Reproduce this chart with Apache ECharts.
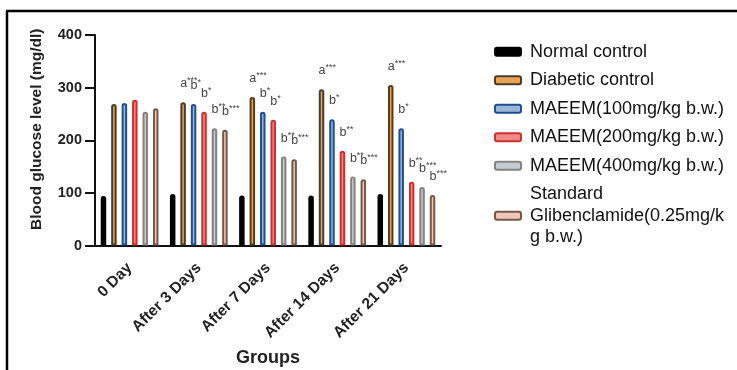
<!DOCTYPE html>
<html>
<head>
<meta charset="utf-8">
<script src="https://cdn.jsdelivr.net/npm/echarts@6/dist/echarts.min.js"></script>
<style>
  html, body { margin: 0; padding: 0; background: #fff; }
  #chart { width: 737px; height: 370px; }
</style>
</head>
<body>
<div id="chart"></div>
<script>
// Blood glucose (mg/dl) per treatment group over time
const categories = ['0 Day', 'After 3 Days', 'After 7 Days', 'After 14 Days', 'After 21 Days'];
const seriesNames = [
  'Normal control',
  'Diabetic control',
  'MAEEM(100mg/kg b.w.)',
  'MAEEM(200mg/kg b.w.)',
  'MAEEM(400mg/kg b.w.)',
  'Standard Glibenclamide(0.25mg/kg b.w.)'
];
const normalControl   = [94, 98, 95, 95, 98];
const diabeticControl = [269, 272, 282, 297, 305];
const maeem100        = [271, 269, 254, 240, 223];
const maeem200        = [277, 254, 239, 180, 121];
const maeem400        = [254, 223, 169, 131, 111];
const glibenclamide   = [261, 220, 164, 126, 96];

// Significance marks: letter + asterisks ('' = none)
const sigDiabetic = ['', 'a***', 'a***', 'a***', 'a***'];
const sig100      = ['', 'b*', 'b*', 'b*', 'b*'];
const sig200      = ['', 'b*', 'b*', 'b**', 'b**'];
const sig400      = ['', 'b**', 'b**', 'b**', 'b***'];
const sigGlib     = ['', 'b***', 'b***', 'b***', 'b***'];

const yTicks = [0, 100, 200, 300, 400];

const FONT = 'Liberation Sans, Arial, sans-serif';

const styles = [
  { border: '#000000', fill: '#000000' },
  { border: '#4e3c28', fill: '#e9a352' },
  { border: '#1f4f8f', fill: '#9db6d8' },
  { border: '#cc2f2f', fill: '#ee8a88' },
  { border: '#86837e', fill: '#c4cad2' },
  { border: '#74584a', fill: '#f1c6b6' }
];

const valueSets = [normalControl, diabeticControl, maeem100, maeem200, maeem400, glibenclamide];
const sigSets = [null, sigDiabetic, sig100, sig200, sig400, sigGlib];

function sigLabel(sigs) {
  return function (p) {
    const s = sigs[p.dataIndex];
    if (!s) return '';
    return '{l|' + s.charAt(0) + '}{s|' + s.slice(1) + '}';
  };
}

const series = valueSets.map(function (vals, i) {
  const s = {
    name: seriesNames[i],
    type: 'bar',
    barWidth: 5.5,
    barGap: '90%',
    data: vals,
    itemStyle: {
      color: styles[i].fill,
      borderColor: styles[i].border,
      borderWidth: 2,
      borderRadius: [2.5, 2.5, 0, 0]
    }
  };
  if (sigSets[i]) {
    s.label = {
      show: true,
      position: 'top',
      align: 'left',
      distance: 12,
      offset: [-3, 0],
      formatter: sigLabel(sigSets[i]),
      rich: {
        l: { fontSize: 12.5, color: '#444', fontFamily: FONT, lineHeight: 14, verticalAlign: 'bottom' },
        s: { fontSize: 9, color: '#444', fontFamily: FONT, lineHeight: 14, verticalAlign: 'top', padding: [0, 0, 5, 0] }
      }
    };
  }
  return s;
});

const legendText = {
  'Standard Glibenclamide(0.25mg/kg b.w.)': 'Standard\nGlibenclamide(0.25mg/k\ng b.w.)'
};

const chart = echarts.init(document.getElementById('chart'));
chart.setOption({
  backgroundColor: '#ffffff',
  animation: false,
  grid: { left: 95, right: 296, top: 35, bottom: 124.5, containLabel: false, outerBoundsMode: 'none' },
  legend: {
    orient: 'vertical',
    left: 489,
    top: 36,
    itemWidth: 26,
    itemHeight: 8,
    itemGap: 7,
    data: seriesNames,
    itemStyle: { borderWidth: 2 },
    formatter: function (name) { return legendText[name] || name; },
    textStyle: { fontFamily: FONT, fontSize: 18, color: '#111', lineHeight: 21.5, padding: [0, 0, 0, 4] }
  },
  xAxis: {
    type: 'category',
    data: categories,
    name: 'Groups',
    nameLocation: 'middle',
    nameGap: 104,
    nameTextStyle: { fontFamily: FONT, fontSize: 18, fontWeight: 'bold', color: '#222' },
    axisLine: { lineStyle: { color: '#111', width: 2 } },
    axisTick: { alignWithLabel: true, length: 9, lineStyle: { color: '#111', width: 2 } },
    axisLabel: { rotate: 45, fontFamily: FONT, fontSize: 15.5, fontWeight: 'bold', color: '#222', margin: 20 }
  },
  yAxis: {
    type: 'value',
    min: 0,
    max: 400,
    interval: 100,
    name: 'Blood glucose level (mg/dl)',
    nameLocation: 'middle',
    nameGap: 50,
    nameTextStyle: { fontFamily: FONT, fontSize: 15.5, fontWeight: 'bold', color: '#222', padding: [0, 0, 0, 22] },
    axisLine: { show: true, lineStyle: { color: '#111', width: 2 } },
    axisTick: { show: true, length: 10, lineStyle: { color: '#111', width: 2 } },
    splitLine: { show: false },
    axisLabel: {
      fontFamily: FONT, fontSize: 14.5, fontWeight: 'bold', color: '#222', margin: 13,
      formatter: function (v) { return yTicks.indexOf(v) >= 0 ? String(v) : ''; }
    }
  },
  graphic: [
    { type: 'line', shape: { x1: 7, y1: 11, x2: 7, y2: 370 }, style: { stroke: '#000', lineWidth: 2.5 } },
    { type: 'line', shape: { x1: 6, y1: 11, x2: 737, y2: 11 }, style: { stroke: '#000', lineWidth: 2.5 } }
  ],
  series: series
});
</script>
</body>
</html>
